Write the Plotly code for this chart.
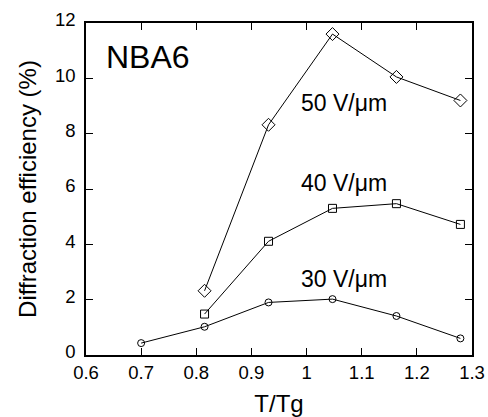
import plotly.graph_objects as go

# Data
t_tg_30 = [0.700, 0.815, 0.931, 1.047, 1.163, 1.279]
eff_30 = [0.43, 1.02, 1.90, 2.02, 1.41, 0.60]

t_tg_40 = [0.815, 0.931, 1.047, 1.163, 1.279]
eff_40 = [1.48, 4.11, 5.30, 5.47, 4.72]

t_tg_50 = [0.815, 0.931, 1.047, 1.163, 1.279]
eff_50 = [2.32, 8.32, 11.60, 10.05, 9.20]

x_tickvals = [0.6, 0.7, 0.8, 0.9, 1.0, 1.1, 1.2, 1.3]
x_ticktext = ["0.6", "0.7", "0.8", "0.9", "1", "1.1", "1.2", "1.3"]
y_tickvals = [0, 2, 4, 6, 8, 10, 12]
y_ticktext = ["0", "2", "4", "6", "8", "10", "12"]

series_labels = ["30 V/\u03bcm", "40 V/\u03bcm", "50 V/\u03bcm"]
label_x = [0.986, 0.986, 0.986]
label_y = [2.76, 6.22, 9.10]
sample_name = "NBA6"

FONT = "Arial, Liberation Sans, Helvetica, sans-serif"

fig = go.Figure()
for xs, ys, sym, sz in [
    (t_tg_30, eff_30, "circle-open", 7),
    (t_tg_40, eff_40, "square-open", 8),
    (t_tg_50, eff_50, "diamond-open", 10),
]:
    fig.add_trace(go.Scatter(
        x=xs, y=ys, mode="lines+markers",
        line=dict(color="black", width=1),
        marker=dict(symbol=sym, size=sz, color="black", line=dict(color="black", width=1)),
        showlegend=False,
    ))

for txt, lx, ly in zip(series_labels, label_x, label_y):
    fig.add_annotation(x=lx, y=ly, text=txt, showarrow=False, xanchor="left", yanchor="middle",
                       font=dict(family=FONT, size=23, color="black"))

fig.add_annotation(x=0.632, y=10.78, text=sample_name, showarrow=False, xanchor="left", yanchor="middle",
                   font=dict(family=FONT, size=32, color="black"))

axis_common = dict(
    showgrid=False, zeroline=False, showline=True, linecolor="black", linewidth=1.5,
    mirror="ticks", ticks="inside", ticklen=7, tickwidth=1, tickcolor="black",
    tickfont=dict(family=FONT, size=18.5, color="black"), automargin=False,
)

fig.update_xaxes(range=[0.6, 1.3], tickvals=x_tickvals, ticktext=x_ticktext,
                 title=dict(text="T/Tg", font=dict(family=FONT, size=24, color="black"), standoff=14),
                 **axis_common)
fig.update_yaxes(range=[0, 12], tickvals=y_tickvals, ticktext=y_ticktext,
                 ticklabelshift=-3, ticklabelstandoff=5,
                 title=dict(text="Diffraction efficiency (%)", font=dict(family=FONT, size=24, color="black"), standoff=12),
                 **axis_common)

fig.update_layout(
    width=488, height=417,
    margin=dict(l=86, r=16, t=23, b=62),
    plot_bgcolor="white", paper_bgcolor="white",
    font=dict(family=FONT, color="black"),
)

fig.write_html("out.html")
